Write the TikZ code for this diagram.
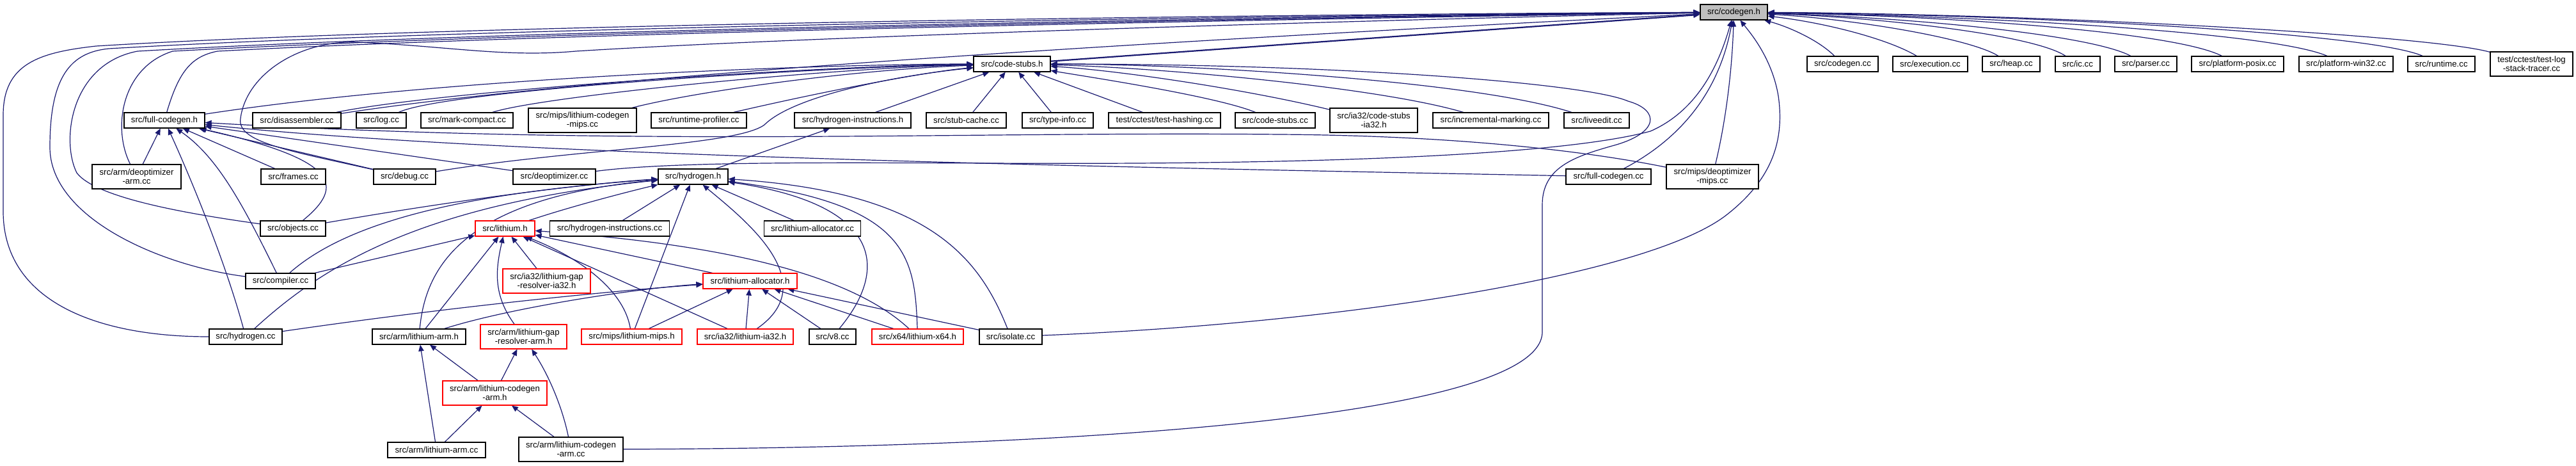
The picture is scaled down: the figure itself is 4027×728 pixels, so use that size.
\documentclass[tikz,border=0pt]{standalone}
\usepackage{fontspec}
\setmainfont{Liberation Sans}
\usetikzlibrary{arrows.meta}
\definecolor{edgecol}{HTML}{191970}
\definecolor{nodegray}{HTML}{BFBFBF}
\pgfdeclarelayer{back}
\pgfsetlayers{back,main}
\begin{document}
\begin{tikzpicture}[x=0.5pt,y=-0.5pt,
  box/.style={draw=black, line width=0.6pt, rectangle, inner sep=0pt, minimum height=12pt,
    font=\fontsize{6.6}{6.8}\selectfont, align=center, fill=white},
  two/.style={minimum height=19pt},
  redbox/.style={draw=red},
  bw/.style={minimum width=#1*0.5pt},
  edge/.style={draw=edgecol, line width=0.6pt, -{Triangle[length=5pt,width=4.2pt]}},
]
\useasboundingbox (0,0) rectangle (4027,728);
% row 0
\node[box,bw=105,fill=nodegray] (cg) at (2710.5,19) {src/codegen.h};
% row 1
\node[box,bw=120] (cs) at (1582,100) {src/code-stubs.h};
\node[box,bw=111] (ccc) at (2880.5,100) {src/codegen.cc};
\node[box,bw=117] (exe) at (3017.5,100) {src/execution.cc};
\node[box,bw=90] (heap) at (3144,100) {src/heap.cc};
\node[box,bw=70] (ic) at (3248,100) {src/ic.cc};
\node[box,bw=97] (parser) at (3354.5,100) {src/parser.cc};
\node[box,bw=144] (posix) at (3498,100) {src/platform-posix.cc};
\node[box,bw=147] (win32) at (3667.5,100) {src/platform-win32.cc};
\node[box,bw=105] (rt) at (3816.5,100) {src/runtime.cc};
\node[box,two,bw=129] (tlog) at (3957.5,100) {test/cctest/test-log\\-stack-tracer.cc};
% row 2
\node[box,bw=126] (fch) at (257,188) {src/full-codegen.h};
\node[box,bw=138] (dis) at (464,188) {src/disassembler.cc};
\node[box,bw=78] (log) at (596,188) {src/log.cc};
\node[box,bw=144] (mc) at (730,188) {src/mark-compact.cc};
\node[box,two,bw=169] (lcm) at (910.5,188) {src/mips/lithium-codegen\\-mips.cc};
\node[box,bw=149] (rp) at (1092.5,188) {src/runtime-profiler.cc};
\node[box,bw=182] (hih) at (1333,188) {src/hydrogen-instructions.h};
\node[box,bw=125] (sc) at (1510.5,188) {src/stub-cache.cc};
\node[box,bw=111] (ti) at (1653.5,188) {src/type-info.cc};
\node[box,bw=175] (th) at (1820.5,188) {test/cctest/test-hashing.cc};
\node[box,bw=125] (csc) at (1993.5,188) {src/code-stubs.cc};
\node[box,two,bw=137] (csia) at (2147.5,188) {src/ia32/code-stubs\\-ia32.h};
\node[box,bw=181] (im) at (2330.5,188) {src/incremental-marking.cc};
\node[box,bw=102] (le) at (2496,188) {src/liveedit.cc};
% row 3
\node[box,two,bw=139] (darm) at (213.5,276) {src/arm/deoptimizer\\-arm.cc};
\node[box,bw=101] (fr) at (458.5,276) {src/frames.cc};
\node[box,bw=97] (dbg) at (632.5,276) {src/debug.cc};
\node[box,bw=129] (deo) at (866.5,276) {src/deoptimizer.cc};
\node[box,bw=109] (hy) at (1083.5,276) {src/hydrogen.h};
\node[box,bw=133] (fcc) at (2514.5,276) {src/full-codegen.cc};
\node[box,two,bw=144] (dmips) at (2677,276) {src/mips/deoptimizer\\-mips.cc};
% row 4
\node[box,bw=102] (obj) at (458,357) {src/objects.cc};
\node[box,redbox,bw=93] (li) at (789.5,357) {src/lithium.h};
\node[box,bw=187] (hic) at (953,357) {src/hydrogen-instructions.cc};
\node[box,bw=151] (lac) at (1270,357) {src/lithium-allocator.cc};
% row 5
\node[box,bw=109] (comp) at (438.5,439) {src/compiler.cc};
\node[box,two,redbox,bw=137] (lgri) at (854.5,439) {src/ia32/lithium-gap\\-resolver-ia32.h};
\node[box,redbox,bw=147] (la) at (1172.5,439) {src/lithium-allocator.h};
% row 6
\node[box,bw=114] (hcc) at (384,526) {src/hydrogen.cc};
\node[box,bw=146] (lah) at (655,526) {src/arm/lithium-arm.h};
\node[box,two,redbox,bw=135] (lgra) at (818.5,526) {src/arm/lithium-gap\\-resolver-arm.h};
\node[box,redbox,bw=157] (lmips) at (987.5,526) {src/mips/lithium-mips.h};
\node[box,redbox,bw=150] (lia) at (1165,526) {src/ia32/lithium-ia32.h};
\node[box,bw=73] (v8) at (1301.5,526) {src/v8.cc};
\node[box,redbox,bw=143] (lx64) at (1434.5,526) {src/x64/lithium-x64.h};
\node[box,bw=98] (iso) at (1580,526) {src/isolate.cc};
% row 7, 8
\node[box,two,redbox,bw=163] (lcah) at (773.5,614) {src/arm/lithium-codegen\\-arm.h};
\node[box,bw=153] (larmcc) at (682.5,703) {src/arm/lithium-arm.cc};
\node[box,two,bw=163] (lcac) at (892.5,702) {src/arm/lithium-codegen\\-arm.cc};

\begin{pgfonlayer}{back}
% ---- into codegen.h
\draw[edge] (hcc) .. controls (150,526) and (5,470) .. (5,330) -- (5,180) .. controls (5,100) and (60,82) .. (150,72) .. controls (700,38) and (2000,22) .. (cg);
\draw[edge] (comp) .. controls (250,415) and (78,340) .. (78,230) .. controls (78,120) and (110,82) .. (170,76) .. controls (750,42) and (2000,24) .. (cg);
\draw[edge] (obj) .. controls (300,335) and (150,310) .. (120,270) .. controls (95,220) and (110,100) .. (215,80) .. controls (800,46) and (2000,26) .. (cg);
\draw[edge] (darm) .. controls (175,200) and (190,105) .. (270,80) .. controls (850,48) and (2000,28) .. (cg);
\draw[edge] (fch) .. controls (280,110) and (300,88) .. (340,80) .. controls (900,50) and (2000,30) .. (cg);
\draw[edge] (dbg) .. controls (450,235) and (370,222) .. (376,185) .. controls (385,115) and (470,62) .. (560,66) .. controls (700,72) and (790,90) .. (900,80) .. controls (1300,55) and (2200,30) .. (cg);
\draw[edge] (dis) .. controls (1000,105) and (2200,45) .. (cg);
\draw[edge,line width=1.1pt] (cs) -- (cg);
\draw[edge] (deo) .. controls (1050,252) and (1300,254) .. (1550,255) .. controls (2100,258) and (2450,240) .. (2580,205) .. controls (2660,170) and (2690,90) .. (cg);
\draw[edge] (fcc) .. controls (2640,210) and (2690,130) .. (cg);
\draw[edge] (dmips) .. controls (2700,180) and (2708,100) .. (cg);
\draw[edge] (iso) .. controls (2100,505) and (2580,430) .. (2700,335) .. controls (2770,280) and (2790,220) .. (2780,150) .. controls (2770,90) and (2735,50) .. (cg);
\draw[edge] (ccc) .. controls (2840,60) and (2790,40) .. (cg);
\draw[edge] (exe) .. controls (2950,60) and (2850,35) .. (cg);
\draw[edge] (heap) .. controls (3080,60) and (2900,30) .. (cg);
\draw[edge] (ic) .. controls (3180,55) and (2950,28) .. (cg);
\draw[edge] (parser) .. controls (3270,55) and (3000,28) .. (cg);
\draw[edge] (posix) .. controls (3400,50) and (3050,25) .. (cg);
\draw[edge] (win32) .. controls (3550,50) and (3100,25) .. (cg);
\draw[edge] (rt) .. controls (3700,50) and (3150,23) .. (cg);
\draw[edge] (tlog) .. controls (3800,55) and (3200,22) .. (cg);
% ---- into code-stubs.h
\draw[edge] (fch) .. controls (700,120) and (1300,100) .. (cs);
\draw[edge] (dis) .. controls (700,140) and (1300,102) .. (cs);
\draw[edge] (log) .. controls (700,140) and (1300,104) .. (cs);
\draw[edge] (mc) .. controls (850,150) and (1300,106) .. (cs);
\draw[edge] (lcm) .. controls (1100,140) and (1350,108) .. (cs);
\draw[edge] (rp) .. controls (1300,140) and (1450,112) .. (cs);
\draw[edge] (dbg) .. controls (900,232) and (1150,228) .. (1195,195) .. controls (1240,150) and (1400,118) .. (cs);
\draw[edge] (hih) -- (cs);
\draw[edge] (sc) -- (cs);
\draw[edge] (ti) -- (cs);
\draw[edge] (th) -- (cs);
\draw[edge] (csc) .. controls (1900,150) and (1700,120) .. (cs);
\draw[edge] (csia) .. controls (1950,140) and (1750,110) .. (cs);
\draw[edge] (im) .. controls (2150,135) and (1800,105) .. (cs);
\draw[edge] (le) .. controls (2300,125) and (1850,100) .. (cs);
\draw[edge] (lcac) .. controls (1700,700) and (2405,650) .. (2411,520) -- (2411,320) .. controls (2411,262) and (2460,245) .. (2520,228) .. controls (2595,208) and (2595,172) .. (2545,158) .. controls (2480,130) and (2100,100) .. (cs);
\draw[edge] (hy) -- (hih);
% ---- into full-codegen.h
\draw[edge] (darm) -- (fch);
\draw[edge] (hcc) .. controls (350,400) and (290,260) .. (fch);
\draw[edge] (comp) .. controls (380,320) and (340,245) .. (fch);
\draw[edge] (fr) -- (fch);
\draw[edge] (dbg) -- (fch);
\draw[edge] (deo) -- (fch);
\draw[edge] (fcc) .. controls (1800,262) and (800,245) .. (fch);
\draw[edge] (dmips) .. controls (2500,240) and (2300,212) .. (2000,210) .. controls (1500,205) and (1000,230) .. (fch);
\draw[edge] (obj) .. controls (540,290) and (530,250) .. (fch);
% ---- into hydrogen.h
\draw[edge] (obj) .. controls (700,315) and (900,288) .. (hy);
\draw[edge] (comp) .. controls (550,340) and (750,300) .. (hy);
\draw[edge] (hcc) .. controls (500,420) and (650,320) .. (hy);
\draw[edge] (lah) .. controls (665,420) and (720,310) .. (hy);
\draw[edge] (li) .. controls (900,320) and (1000,295) .. (hy);
\draw[edge] (hic) -- (hy);
\draw[edge] (lmips) -- (hy);
\draw[edge] (lia) .. controls (1290,440) and (1160,340) .. (hy);
\draw[edge] (v8) .. controls (1390,420) and (1380,320) .. (hy);
\draw[edge] (lx64) .. controls (1430,400) and (1420,320) .. (hy);
\draw[edge] (iso) .. controls (1530,400) and (1450,300) .. (hy);
\draw[edge] (lac) -- (hy);
% ---- into lithium.h
\draw[edge] (comp) -- (li);
\draw[edge] (lgri) -- (li);
\draw[edge] (lah) -- (li);
\draw[edge] (lgra) .. controls (770,460) and (775,420) .. (li);
\draw[edge] (lmips) .. controls (975,450) and (900,400) .. (li);
\draw[edge] (lia) -- (li);
\draw[edge] (lx64) .. controls (1320,420) and (1100,380) .. (li);
\draw[edge] (la) -- (li);
% ---- into lithium-allocator.h
\draw[edge] (hcc) .. controls (700,480) and (950,455) .. (la);
\draw[edge] (lah) .. controls (800,480) and (1000,450) .. (la);
\draw[edge] (lmips) -- (la);
\draw[edge] (lia) -- (la);
\draw[edge] (v8) -- (la);
\draw[edge] (lx64) -- (la);
\draw[edge] (iso) -- (la);
% ---- arm
\draw[edge] (larmcc) -- (lah);
\draw[edge] (lcah) -- (lah);
\draw[edge] (lcah) -- (lgra);
\draw[edge] (lcac) .. controls (880,640) and (860,590) .. (lgra);
\draw[edge] (larmcc) -- (lcah);
\draw[edge] (lcac) -- (lcah);
\end{pgfonlayer}
\end{tikzpicture}
\end{document}
